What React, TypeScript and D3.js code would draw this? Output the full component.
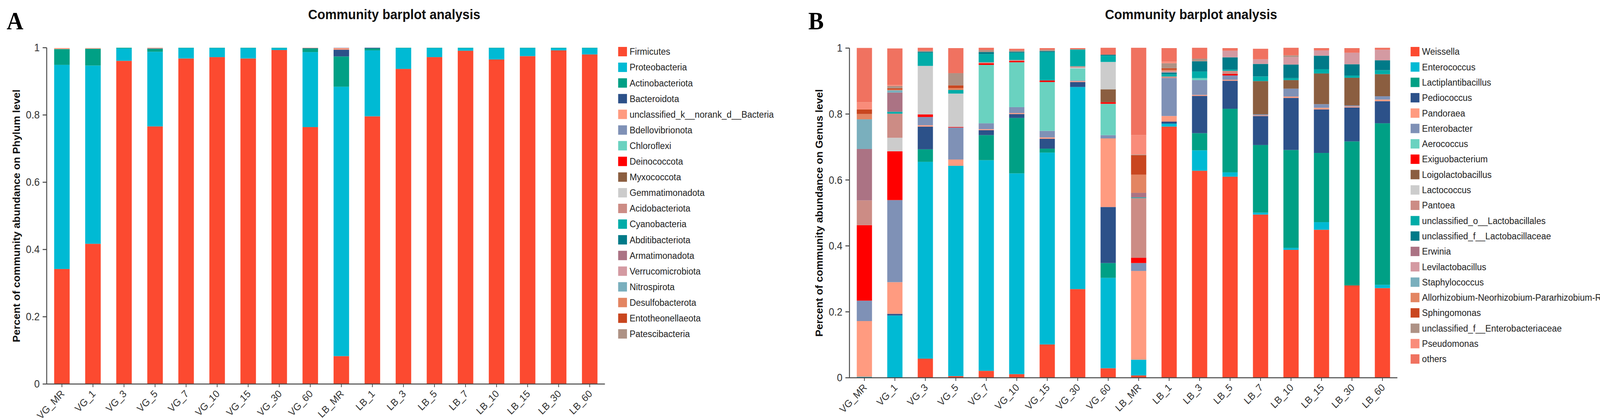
import * as d3 from "d3";

const samples = [
  "VG_MR", "VG_1", "VG_3", "VG_5", "VG_7", "VG_10", "VG_15", "VG_30", "VG_60",
  "LB_MR", "LB_1", "LB_3", "LB_5", "LB_7", "LB_10", "LB_15", "LB_30", "LB_60",
];

// ---- Panel A: phylum level ----
const phyla = [
  "Firmicutes", "Proteobacteria", "Actinobacteriota", "Bacteroidota",
  "unclassified_k__norank_d__Bacteria", "Bdellovibrionota", "Chloroflexi",
  "Deinococcota", "Myxococcota", "Gemmatimonadota", "Acidobacteriota",
  "Cyanobacteria", "Abditibacteriota", "Armatimonadota", "Verrucomicrobiota",
  "Nitrospirota", "Desulfobacterota", "Entotheonellaeota", "Patescibacteria",
];

const palette = [
  "#fc4a30", "#00bad4", "#00a085", "#2c5189", "#ff9b80", "#7f91b6", "#6ad2c0",
  "#ff0000", "#8b5e40", "#cccccc", "#cc8c85", "#00aca8", "#007a88", "#ab7384",
  "#d49aa2", "#7aafbd", "#e38562", "#c9461f", "#ae9285", "#f98c7a", "#f07260",
];

const firmicutes = [0.342, 0.417, 0.961, 0.766, 0.968, 0.972, 0.968, 0.993, 0.764, 0.083, 0.796, 0.937, 0.972, 0.991, 0.965, 0.975, 0.992, 0.980];
const proteobacteria = [0.607, 0.530, 0.037, 0.222, 0.031, 0.027, 0.031, 0.006, 0.223, 0.801, 0.196, 0.062, 0.027, 0.008, 0.034, 0.024, 0.007, 0.019];
const actinobacteriota = [0.047, 0.050, 0.002, 0.009, 0.001, 0.001, 0.001, 0.001, 0.011, 0.090, 0.006, 0.001, 0.001, 0.001, 0.001, 0.001, 0.001, 0.001];
const bacteroidota = [0, 0, 0, 0.001, 0, 0, 0, 0, 0.001, 0.020, 0.002, 0, 0, 0, 0, 0, 0, 0];
const unclassifiedBacteria = [0.003, 0.002, 0, 0.002, 0, 0, 0, 0, 0.001, 0.005, 0, 0, 0, 0, 0, 0, 0, 0];
const bdellovibrionota = [0, 0, 0, 0, 0, 0, 0, 0, 0, 0.001, 0, 0, 0, 0, 0, 0, 0, 0];

const phylumTable: Record<string, number[]> = {
  Firmicutes: firmicutes,
  Proteobacteria: proteobacteria,
  Actinobacteriota: actinobacteriota,
  Bacteroidota: bacteroidota,
  unclassified_k__norank_d__Bacteria: unclassifiedBacteria,
  Bdellovibrionota: bdellovibrionota,
};

// ---- Panel B: genus level ----
const genera = [
  "Weissella", "Enterococcus", "Lactiplantibacillus", "Pediococcus", "Pandoraea",
  "Enterobacter", "Aerococcus", "Exiguobacterium", "Loigolactobacillus",
  "Lactococcus", "Pantoea", "unclassified_o__Lactobacillales",
  "unclassified_f__Lactobacillaceae", "Erwinia", "Levilactobacillus",
  "Staphylococcus", "Allorhizobium-Neorhizobium-Pararhizobium-Rhizobium",
  "Sphingomonas", "unclassified_f__Enterobacteriaceae", "Pseudomonas", "others",
];

const weissella = [0, 0, 0.058, 0.005, 0.021, 0.011, 0.101, 0.269, 0.029, 0.007, 0.762, 0.628, 0.610, 0.495, 0.388, 0.449, 0.280, 0.272];
const enterococcus = [0.003, 0.189, 0.597, 0.638, 0.639, 0.609, 0.582, 0.613, 0.274, 0.048, 0.009, 0.062, 0.013, 0.006, 0.006, 0.023, 0, 0.010];
const lactiplantibacillus = [0, 0, 0.038, 0, 0.076, 0.168, 0.012, 0, 0.045, 0, 0, 0.052, 0.193, 0.205, 0.297, 0.210, 0.437, 0.490];
const pediococcus = [0, 0.005, 0.069, 0, 0.015, 0.012, 0.030, 0.015, 0.170, 0, 0.006, 0.113, 0.085, 0.088, 0.158, 0.132, 0.103, 0.067];
const pandoraea = [0.169, 0.096, 0.004, 0.019, 0.003, 0.003, 0.004, 0.003, 0.208, 0.269, 0.017, 0.003, 0.003, 0.002, 0.004, 0.005, 0.003, 0.005];
const enterobacter = [0.062, 0.249, 0.025, 0.097, 0.018, 0.018, 0.020, 0.002, 0.010, 0.024, 0.115, 0.045, 0.013, 0.003, 0.024, 0.011, 0.003, 0.010];
const aerococcus = [0, 0, 0, 0, 0.177, 0.136, 0.148, 0.036, 0.095, 0, 0, 0.006, 0, 0, 0, 0, 0, 0];
const exiguobacterium = [0.229, 0.148, 0.008, 0.002, 0.005, 0.004, 0.005, 0, 0.005, 0.016, 0, 0, 0.005, 0, 0, 0, 0, 0];
const loigolactobacillus = [0, 0, 0, 0, 0, 0, 0, 0, 0.039, 0, 0, 0, 0, 0.101, 0.026, 0.093, 0.084, 0.067];
const lactococcus = [0, 0.041, 0.147, 0.101, 0, 0, 0, 0.003, 0.083, 0, 0, 0, 0, 0, 0, 0, 0, 0];
const pantoea = [0.075, 0.073, 0, 0, 0.003, 0.003, 0, 0.004, 0, 0.181, 0.005, 0, 0.009, 0, 0, 0, 0, 0];
const unclassifiedLactobacillales = [0, 0.006, 0.040, 0.011, 0.025, 0.022, 0.086, 0.051, 0.019, 0.002, 0.007, 0.020, 0.004, 0.014, 0.006, 0.013, 0.007, 0.012];
const unclassifiedLactobacillaceae = [0, 0, 0.003, 0, 0.006, 0.003, 0.003, 0, 0.003, 0, 0.005, 0.031, 0.037, 0.038, 0.041, 0.041, 0.034, 0.030];
const erwinia = [0.156, 0.058, 0, 0, 0, 0, 0, 0, 0, 0.014, 0, 0, 0, 0, 0, 0, 0, 0];
const levilactobacillus = [0, 0, 0, 0, 0, 0, 0, 0, 0, 0, 0.004, 0, 0.020, 0.014, 0.023, 0.016, 0.035, 0.032];
const staphylococcus = [0.090, 0.007, 0, 0, 0, 0, 0, 0, 0, 0, 0, 0, 0, 0, 0, 0, 0, 0];
const allorhizobium = [0.016, 0.002, 0, 0.006, 0, 0, 0, 0, 0, 0.055, 0.004, 0, 0, 0, 0, 0, 0, 0];
const sphingomonas = [0.014, 0.004, 0, 0.008, 0, 0, 0, 0, 0, 0.059, 0.005, 0, 0, 0, 0, 0, 0, 0];
const unclassifiedEnterobacteriaceae = [0, 0.007, 0.003, 0.037, 0.006, 0.004, 0.004, 0, 0, 0.002, 0.015, 0.008, 0, 0, 0.005, 0, 0, 0];
const pseudomonas = [0.022, 0.003, 0, 0, 0, 0, 0, 0, 0, 0.059, 0.005, 0, 0, 0, 0, 0, 0, 0];
const others = [0.1645, 0.111, 0.009, 0.076, 0.007, 0.005, 0.005, 0.004, 0.021, 0.265, 0.041, 0.033, 0.008, 0.032, 0.023, 0.007, 0.014, 0.006];

const genusSeries = [
  weissella, enterococcus, lactiplantibacillus, pediococcus, pandoraea, enterobacter,
  aerococcus, exiguobacterium, loigolactobacillus, lactococcus, pantoea,
  unclassifiedLactobacillales, unclassifiedLactobacillaceae, erwinia, levilactobacillus,
  staphylococcus, allorhizobium, sphingomonas, unclassifiedEnterobacteriaceae, pseudomonas, others,
];
const genusTable: Record<string, number[]> = {};
genera.forEach((g, i) => (genusTable[g] = genusSeries[i]));

const SANS = "'Liberation Sans', Arial, sans-serif";
const fmt = d3.format("~g");

type PanelProps = {
  letter: string;
  letterX: number;
  title: string;
  titleX: number;
  yTitle: string;
  yTitleX: number;
  keys: string[];
  table: Record<string, number[]>;
  x0: number;
  x1: number;
  yTop: number;
  yBottom: number;
  legendX: number;
  legendStep: number;
};

function Panel(p: PanelProps) {
  const x = d3.scaleBand().domain(samples).range([p.x0, p.x1]).paddingInner(0.5).paddingOuter(0.24);
  const y = d3.scaleLinear().domain([0, 1]).range([p.yBottom, p.yTop]);
  const rows = samples.map((s, i) => {
    const r: any = { sample: s };
    p.keys.forEach(k => (r[k] = p.table[k] ? p.table[k][i] : 0));
    return r;
  });
  const series = d3.stack<any>().keys(p.keys)(rows);
  const color = d3.scaleOrdinal<string, string>().domain(p.keys).range(palette);
  const ticks = y.ticks(5);

  return (
    <g>
      <text x={p.letterX} y={75} fontFamily="'Liberation Serif', 'Times New Roman', serif" fontWeight="bold" fontSize={63} fill="#000">
        {p.letter}
      </text>
      <text x={p.titleX} y={49} textAnchor="middle" fontFamily={SANS} fontWeight="bold" fontSize={35} fill="#111">
        {p.title}
      </text>

      {series.map(s => (
        <g key={s.key} fill={color(s.key)}>
          {s.map(d => (
            <rect
              key={d.data.sample}
              x={x(d.data.sample)}
              width={x.bandwidth()}
              y={y(d[1])}
              height={Math.max(0, y(d[0]) - y(d[1]))}
            />
          ))}
        </g>
      ))}

      {/* y axis */}
      <line x1={p.x0} x2={p.x0} y1={y(1)} y2={y(0)} stroke="#444" strokeWidth={2.5} />
      {ticks.map(t => (
        <g key={t} transform={`translate(${p.x0},${y(t)})`}>
          <line x1={-11} x2={0} stroke="#444" strokeWidth={2.5} />
          <text x={-19} dy="0.35em" textAnchor="end" fontFamily={SANS} fontSize={27} fill="#333">
            {fmt(t)}
          </text>
        </g>
      ))}
      <text
        transform={`translate(${p.yTitleX},${(y(0) + y(1)) / 2}) rotate(-90)`}
        textAnchor="middle"
        fontFamily={SANS}
        fontWeight="bold"
        fontSize={27}
        fill="#111"
      >
        {p.yTitle}
      </text>

      {/* x axis */}
      <line x1={p.x0} x2={p.x1} y1={y(0)} y2={y(0)} stroke="#444" strokeWidth={2.5} />
      {samples.map(s => {
        const cx = x(s)! + x.bandwidth() / 2;
        return (
          <g key={s}>
            <line x1={cx} x2={cx} y1={y(0)} y2={y(0) + 8} stroke="#444" strokeWidth={2} />
            <text
              transform={`translate(${cx + 2},${y(0) + 20}) rotate(-45)`}
              dy="0.35em"
              textAnchor="end"
              fontFamily={SANS}
              fontSize={26}
              fill="#333"
            >
              {s}
            </text>
          </g>
        );
      })}

      {/* legend */}
      {p.keys.map((k, i) => {
        const cy = 132 + i * p.legendStep;
        return (
          <g key={k}>
            <rect x={p.legendX} y={cy - 12} width={24} height={24} fill={color(k)} />
            <text x={p.legendX + 31} y={cy} dy="0.35em" fontFamily={SANS} fontSize={24} fill="#222">
              {k}
            </text>
          </g>
        );
      })}
    </g>
  );
}

export default function App() {
  return (
    <svg
      viewBox="0 0 4351 1074"
      preserveAspectRatio="none"
      style={{ position: "fixed", left: 0, top: 0, width: "100vw", height: "100vh", background: "#fff", display: "block" }}
    >
      <rect width={4351} height={1074} fill="#fff" />
      <Panel
        letter="A"
        letterX={18}
        title="Community barplot analysis"
        titleX={1072}
        yTitle="Percent of community abundance on Phylum level"
        yTitleX={54}
        keys={phyla}
        table={phylumTable}
        x0={127}
        x1={1645}
        yTop={122}
        yBottom={982}
        legendX={1681}
        legendStep={40.1}
      />
      <Panel
        letter="B"
        letterX={2198}
        title="Community barplot analysis"
        titleX={3239}
        yTitle="Percent of community abundance on Genus level"
        yTitleX={2237}
        keys={genera}
        table={genusTable}
        x0={2310}
        x1={3800}
        yTop={123}
        yBottom={966}
        legendX={3836}
        legendStep={39.3}
      />
    </svg>
  );
}
